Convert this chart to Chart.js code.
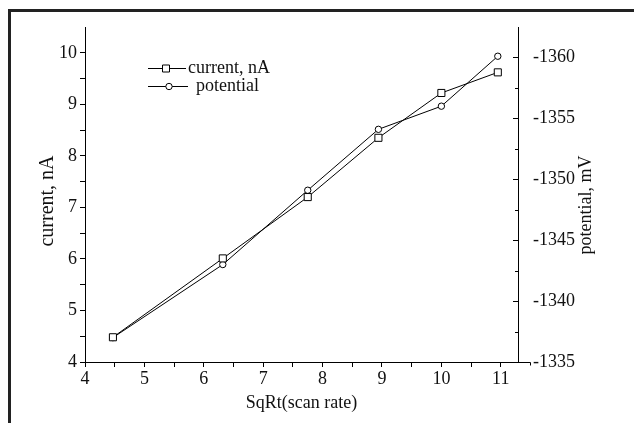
<!DOCTYPE html>
<html>
<head>
<meta charset="utf-8">
<script src="https://cdn.jsdelivr.net/npm/chart.js@4.4.0/dist/chart.umd.min.js"></script>
<style>
  html, body { margin: 0; padding: 0; background: #fff; }
  #wrap { position: relative; width: 634px; height: 423px; overflow: hidden; }
  #frame { position: absolute; left: 8px; top: 9px; width: 700px; height: 500px;
           border-top: 3px solid #222; border-left: 3px solid #222; pointer-events: none; }
  canvas { position: absolute; left: 0; top: 0; }
</style>
</head>
<body>
<div id="wrap">
  <canvas id="chart" width="634" height="423"></canvas>
  <div id="frame"></div>
</div>
<script>
// values
const scanRoot = [4.47, 6.32, 7.75, 8.94, 10.0, 10.95];
const current = [4.48, 6.01, 7.2, 8.35, 9.22, 9.62];
const potential = [-1337.0, -1343.0, -1349.1, -1354.1, -1356.0, -1360.1];
const seriesNames = ["current, nA", "potential"];
const axisTitles = ["SqRt(scan rate)", "current, nA", "potential, mV"];

const FONT = "Liberation Serif";

// side titles (both read bottom to top), inward ticks on the right axis, legend
const extras = {
  id: "extras",
  afterDraw(chart) {
    const ctx = chart.ctx;
    const r = chart.scales.yRight;
    const xs = chart.scales.x;
    ctx.save();
    ctx.strokeStyle = "#000";
    ctx.lineWidth = 1;
    r.ticks.forEach(function (t) {
      if (t.label === null || t.label === undefined) return;
      const y = Math.round(r.getPixelForValue(t.value)) + 0.5;
      const len = t.label === "" ? 3 : 5;
      ctx.beginPath();
      ctx.moveTo(r.left, y);
      ctx.lineTo(r.left - len, y);
      ctx.stroke();
    });
    // the x axis line runs a little past the right axis, to 11.5
    const xEnd = Math.round(xs.left + (11.5 - xs.min) / (xs.max - xs.min) * (xs.right - xs.left)) + 0.5;
    const yAx = Math.round(xs.top) + 0.5;
    ctx.beginPath();
    ctx.moveTo(xs.right, yAx);
    ctx.lineTo(xEnd, yAx);
    ctx.moveTo(xEnd, yAx);
    ctx.lineTo(xEnd, yAx + 3);
    ctx.stroke();
    ctx.restore();

    function sideTitle(text, x, y, size) {
      ctx.save();
      ctx.fillStyle = "#111";
      ctx.font = size + "px '" + FONT + "'";
      ctx.textAlign = "center";
      ctx.textBaseline = "middle";
      ctx.translate(x, y);
      ctx.rotate(-Math.PI / 2);
      ctx.fillText(text, 0, 0);
      ctx.restore();
    }
    sideTitle(axisTitles[1], 48, 201, 20);
    sideTitle(axisTitles[2], 586, 205, 18);

    // legend
    ctx.save();
    ctx.strokeStyle = "#000";
    ctx.lineWidth = 1;
    ctx.font = "18px '" + FONT + "'";
    ctx.textAlign = "left";
    ctx.textBaseline = "middle";
    const rows = [
      { y: 68.5, x0: 148, x1: 186, m: 166, tx: 188, style: "rect" },
      { y: 86.5, x0: 148, x1: 188, m: 169, tx: 196, style: "circle" },
    ];
    rows.forEach(function (row, i) {
      ctx.beginPath();
      ctx.moveTo(row.x0, row.y);
      ctx.lineTo(row.x1, row.y);
      ctx.stroke();
      ctx.beginPath();
      if (row.style === "rect") {
        ctx.rect(row.m - 3.5, row.y - 3.5, 7, 7);
      } else {
        ctx.arc(row.m, row.y, 3.2, 0, Math.PI * 2);
      }
      ctx.fillStyle = "#fff";
      ctx.fill();
      ctx.stroke();
      ctx.fillStyle = "#111";
      ctx.fillText(seriesNames[i], row.tx, row.y);
    });
    ctx.restore();
  },
};

new Chart(document.getElementById("chart"), {
  type: "line",
  data: {
    datasets: [
      {
        label: seriesNames[0],
        data: scanRoot.map((x, i) => ({ x: x, y: current[i] })),
        yAxisID: "y",
        borderColor: "#000",
        borderWidth: 1,
        pointStyle: "rect",
        pointRadius: 5,
        pointBorderWidth: 1,
        pointBorderColor: "#000",
        pointBackgroundColor: "#fff",
      },
      {
        label: seriesNames[1],
        data: scanRoot.map((x, i) => ({ x: x, y: potential[i] })),
        yAxisID: "yRight",
        borderColor: "#000",
        borderWidth: 1,
        pointStyle: "circle",
        pointRadius: 3.2,
        pointBorderWidth: 1,
        pointBorderColor: "#000",
        pointBackgroundColor: "#fff",
      },
    ],
  },
  options: {
    responsive: false,
    animation: false,
    layout: { padding: { top: 27, left: 0, right: 0, bottom: 0 } },
    plugins: { legend: { display: false }, tooltip: { enabled: false } },
    scales: {
      x: {
        type: "linear",
        min: 4,
        max: 11.29,
        afterFit: (s) => { s.height = 61; },
        border: { display: true, color: "#000", width: 1 },
        grid: { drawOnChartArea: false, drawTicks: true, tickLength: 5, color: "#000" },
        ticks: {
          stepSize: 0.5,
          includeBounds: false,
          autoSkip: false,
          maxRotation: 0,
          padding: 1,
          color: "#111",
          font: { family: FONT, size: 18 },
          callback: function (v) {
            if (Math.abs(v * 2 - Math.round(v * 2)) > 1e-6) return null;
            return Number.isInteger(v) ? String(v) : "";
          },
        },
        title: {
          display: true,
          text: axisTitles[0],
          color: "#111",
          font: { family: FONT, size: 18 },
          padding: { top: 0, bottom: 9 },
        },
      },
      y: {
        position: "left",
        min: 4,
        max: 10.5,
        afterFit: (s) => { s.width = 85; },
        border: { display: true, color: "#000", width: 1 },
        grid: { drawOnChartArea: false, drawTicks: true, tickLength: 5, color: "#000" },
        ticks: {
          stepSize: 0.5,
          includeBounds: false,
          autoSkip: false,
          padding: 3,
          color: "#111",
          font: { family: FONT, size: 18 },
          callback: function (v) {
            if (v >= 10.5) return null;
            return Number.isInteger(v) ? String(v) : "";
          },
        },
      },
      yRight: {
        position: "right",
        reverse: true,
        min: -1362.5,
        max: -1335,
        afterFit: (s) => { s.width = 116; },
        border: { display: true, color: "#000", width: 1 },
        grid: { drawOnChartArea: false, drawTicks: false },
        ticks: {
          stepSize: 2.5,
          includeBounds: false,
          autoSkip: false,
          padding: 15,
          color: "#111",
          font: { family: FONT, size: 18 },
          callback: function (v) {
            if (v <= -1362.5) return null;
            return v % 5 === 0 ? String(v) : "";
          },
        },
      },
    },
  },
  plugins: [extras],
});
</script>
</body>
</html>
